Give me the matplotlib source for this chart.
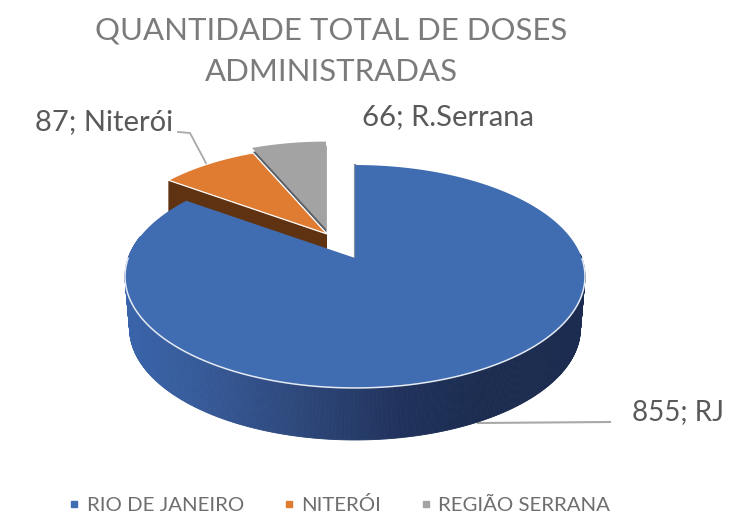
import numpy as np
import matplotlib
matplotlib.use("Agg")
import matplotlib.pyplot as plt
from matplotlib.lines import Line2D
from matplotlib.colors import to_rgb

categories = ["RIO DE JANEIRO", "NITERÓI", "REGIÃO SERRANA"]
values = [855, 87, 66]
point_labels = ["855; RJ", "87; Niterói", "66; R.Serrana"]
title = "QUANTIDADE TOTAL DE DOSES\nADMINISTRADAS"

top_colors = ["#406cb2", "#e07b32", "#a3a3a3"]
wall_colors = [None, "#5f3211", "#596068"]
text_color = "#595959"
title_color = "#7b7b7b"
leader_color = "#a8a8a8"

plt.rcParams["font.family"] = ["Lato", "DejaVu Sans"]
fig = plt.figure(figsize=(7.54, 5.15), dpi=100)
ax = fig.add_axes([0, 0, 1, 1])
ax.set_xlim(0, 754)
ax.set_ylim(515, 0)
ax.axis("off")

# Perspective projection of the pie's unit disc into pixel space
C = 37 / 223
A = 108.4
D = 226.8


def project(ang, r, apex, scale):
    a = np.radians(ang)
    u, v = r * np.sin(a), r * np.cos(a)
    w = 1 + C * v
    return apex[0] + scale * D * u / w, apex[1] - scale * A * v / w


fractions = np.array(values) / sum(values)
ends = np.cumsum(fractions) * 360
starts = np.r_[0, ends[:-1]]
apexes = [(355, 258), (327, 234), (326, 229)]
scales = [1.0, 0.94, 0.94]


def top_polygon(i):
    ang = np.linspace(starts[i], ends[i], 300)
    x, y = project(ang, 1, apexes[i], scales[i])
    return np.r_[apexes[i][0], x], np.r_[apexes[i][1], y]


# gray slice, with its thin wall showing beside the orange slice
x, y = top_polygon(2)
ax.fill(x + 0.5, y + 4, color=wall_colors[2], lw=0, zorder=1)
ax.fill(x, y, color=top_colors[2], lw=0, zorder=2)

# orange slice and its wall
x, y = top_polygon(1)
ox = [x[1], x[0], x[0], x[1]]
oy = [y[1], y[0], y[0] + 30, y[1] + 40]
ax.fill(ox, oy, color=wall_colors[1], lw=0, zorder=3)
ax.fill(x, y, facecolor=top_colors[1], edgecolor="white", lw=0.9, zorder=4)

# blue wall, shaded by x position
stops_x = [125, 200, 300, 400, 480, 590]
stops_c = np.array([to_rgb(c) for c in
                    ["#3a64aa", "#365a98", "#2d477a", "#20325c", "#1b2c50", "#1b2c50"]])
h = 52
shrink = 0.98
ang = np.linspace(88, 282, 400)
rx, ry = project(ang, 1, apexes[0], scales[0])
bx = apexes[0][0] + (rx - apexes[0][0]) * shrink
by = ry + h
for k in range(len(ang) - 1):
    mid = (rx[k] + rx[k + 1]) / 2
    col = [np.interp(mid, stops_x, stops_c[:, j]) for j in range(3)]
    ax.fill([rx[k], rx[k + 1], bx[k + 1], bx[k]],
            [ry[k], ry[k + 1], by[k + 1], by[k]],
            color=col, lw=0.6, zorder=5)

# blue top
x, y = top_polygon(0)
ax.plot([x[1], x[0]], [y[1], y[0]], color="#8b939c", lw=1.6, zorder=5.5)
ax.fill(x, y, color=top_colors[0], lw=0, zorder=6)
front = (ang > 90) & (ang < 270)
ax.plot(rx[front], ry[front], color="#e4eaf3", lw=1.1, zorder=7)

# leader lines
ax.plot([178, 190, 207], [132, 133, 165], color=leader_color, lw=1.3, zorder=0.5)
ax.plot([478, 610], [423, 422], color=leader_color, lw=1.5, zorder=4.5)

# title and data labels
ax.text(331, 51, title, ha="center", va="center", fontsize=22.4,
        color=title_color, linespacing=1.6)
ax.text(724, 412, point_labels[0], ha="right", va="center", fontsize=20, color=text_color)
ax.text(173, 122, point_labels[1], ha="right", va="center", fontsize=21, color=text_color)
ax.text(362, 117, point_labels[2], ha="left", va="center", fontsize=21, color=text_color)

# legend
handles = [Line2D([], [], ls="none", marker="s", ms=5, color=c) for c in top_colors]
ax.legend(handles, categories, loc="center", bbox_to_anchor=(340 / 754, 1 - 505 / 515),
          ncol=3, frameon=False, fontsize=14.7, labelcolor="#6e6e6e",
          handlelength=0.4, handletextpad=0.4, columnspacing=2.0,
          borderpad=0, borderaxespad=0)

fig.savefig("out.png", dpi=100)
